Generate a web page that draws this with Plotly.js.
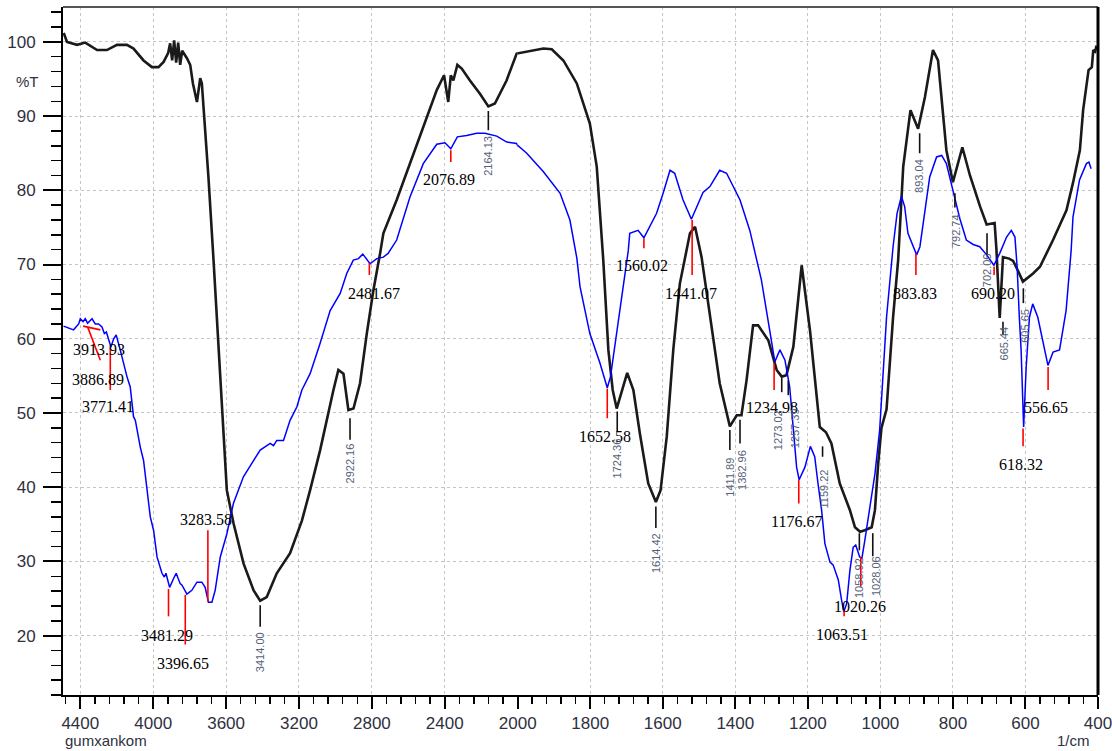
<!DOCTYPE html>
<html>
<head>
<meta charset="utf-8">
<script src="https://cdn.plot.ly/plotly-3.0.1.min.js"></script>
<style>html,body{margin:0;padding:0;background:#fff;}#chart{width:1112px;height:751px;}</style>
</head>
<body>
<div id="chart"></div>
<script>
// ---- Data (wavenumber in 1/cm, transmittance in %T) ----
const blackWn = [4491,4473,4418,4373,4308,4254,4199,4144,4108,4053,4007,3971,3943,3925,3918,3907,3896,3885,3874,3863,3852,3841,3815,3797,3782,3760,3742,3733,3720,3697,3669,3596,3559,3504,3449,3413,3377,3322,3249,3184,3139,3084,3011,2984,2956,2929,2901,2865,2828,2792,2755,2737,2664,2591,2518,2444,2404,2381,2367,2353,2331,2307,2262,2207,2161,2125,2061,2006,1966,1929,1906,1874,1837,1801,1782,1764,1750,1738,1727,1713,1698,1681,1663,1640,1619,1606,1589,1571,1553,1525,1511,1493,1470,1443,1415,1396,1383,1369,1351,1337,1309,1286,1272,1259,1240,1217,1194,1167,1150,1135,1112,1084,1070,1056,1043,1024,1015,1006,997,983,965,951,937,917,896,877,855,841,818,800,774,753,725,707,685,680,671,666,662,645,634,621,607,579,560,524,487,469,450,441,426,417,413,408,404];
const blackT = [101.2,100.0,99.6,99.9,98.9,98.9,99.6,99.6,99.1,97.5,96.6,96.6,97.3,98.2,98.5,99.8,97.5,100.2,97.2,99.9,96.9,98.8,97.8,96.9,94.4,91.9,95.1,94.4,90.3,81.8,70.6,39.6,35.1,29.7,26.1,24.7,25.2,28.4,31.1,35.5,39.6,45.0,53.1,55.8,55.3,50.4,50.6,54.0,60.7,66.5,71.5,74.2,78.7,83.6,88.5,93.5,95.5,91.9,95.5,94.8,96.9,96.4,94.8,93.0,91.3,91.7,94.8,98.4,98.8,99.1,99.0,97.5,94.4,89.0,83.2,70.6,58.5,53.1,50.6,53.1,55.4,53.1,47.2,40.5,38.0,39.6,46.8,58.5,67.4,74.2,75.1,71.0,62.9,54.0,48.2,49.7,49.7,54.4,61.8,61.8,59.8,55.8,54.9,55.1,58.9,69.9,61.1,48.1,47.4,45.9,40.5,36.9,34.6,34.0,34.2,34.6,36.9,43.2,48.0,50.5,62.9,70.6,83.2,90.8,88.3,92.6,98.9,97.5,85.4,81.1,85.8,82.0,77.8,75.4,75.6,72.0,62.8,68.0,71.0,70.8,70.5,69.2,67.7,68.8,69.7,73.3,77.3,81.0,85.4,90.8,96.2,96.6,98.9,98.7,99.5];

const blueWn = [4492,4437,4409,4400,4385,4373,4360,4336,4318,4300,4281,4268,4257,4245,4232,4217,4203,4181,4163,4144,4126,4108,4098,4071,4053,4034,4016,3998,3979,3952,3939,3930,3910,3888,3874,3852,3842,3815,3788,3760,3733,3715,3697,3678,3660,3632,3596,3560,3532,3505,3459,3413,3358,3340,3322,3285,3249,3212,3184,3139,3084,3029,2974,2938,2902,2874,2850,2810,2773,2737,2711,2664,2591,2518,2444,2399,2367,2331,2280,2225,2179,2115,2060,2006,1975,1929,1883,1856,1837,1828,1801,1773,1753,1744,1727,1709,1695,1691,1668,1652,1617,1599,1580,1567,1544,1521,1489,1470,1443,1424,1387,1360,1328,1305,1291,1277,1263,1250,1231,1224,1208,1193,1181,1172,1162,1153,1139,1130,1116,1107,1101,1093,1084,1075,1068,1057,1051,1043,1029,1015,1002,983,965,954,942,933,924,910,900,891,878,864,845,831,818,800,781,763,744,726,707,687,671,652,639,629,623,617,612,605,598,589,580,566,552,538,524,506,488,474,469,451,432,425,419];
const blueT = [61.7,61.2,62.0,62.7,62.3,62.7,62.1,62.7,62.0,62.0,61.6,60.7,60.9,59.8,58.9,60.0,60.5,58.5,56.7,54.9,53.5,49.5,49.0,45.4,43.6,39.6,36.0,34.2,30.6,28.4,27.9,28.4,26.5,27.7,28.4,27.0,26.8,25.6,26.1,27.2,27.2,26.5,24.5,24.5,26.1,30.6,33.7,37.8,39.6,41.4,43.2,45.0,45.9,45.6,46.3,46.3,49.0,50.8,53.1,55.3,59.4,63.8,66.1,68.8,70.6,70.8,71.4,70.1,70.8,71.0,71.5,73.3,79.1,83.6,86.2,86.4,85.6,87.2,87.4,87.7,87.7,87.3,86.5,86.3,85.0,82.5,79.6,76.0,70.9,67.0,60.7,56.7,53.4,54.9,60.7,67.4,71.9,74.2,74.6,73.6,76.9,79.6,82.7,82.3,78.7,76.1,79.7,80.5,82.7,82.3,78.7,74.6,67.9,61.1,56.9,58.5,57.1,53.5,42.7,41.0,42.7,45.5,44.1,40.5,36.9,32.4,29.9,29.5,27.5,24.8,23.2,24.3,28.8,31.9,32.2,30.6,30.4,32.8,37.3,41.8,47.7,62.9,72.4,76.9,79.2,77.8,74.2,72.4,71.3,72.4,77.3,81.8,84.5,84.7,83.6,79.8,76.2,73.3,72.7,72.4,71.3,69.9,71.5,73.7,74.6,73.7,69.7,63.0,58.5,48.1,56.2,62.9,64.7,62.9,59.4,56.4,58.2,58.5,63.8,71.9,76.4,81.4,83.6,83.8,82.9];

const xTicksHigh = [4400,4000,3600,3200,2800,2400];
const xTicksLow = [2000,1800,1600,1400,1200,1000,800,600,400];
const yTicks = [20,30,40,50,60,70,80,90,100];

// peak labels of the blue spectrum (text)
const bluePeakText = ["3913.93","3886.89","3771.41","3481.29","3396.65","3283.58","2481.67","2076.89","1560.02","1441.07","1652.58","1234.98","1176.67","1063.51","1020.26","883.83","690.20","618.32","556.65"];
// peak labels of the black spectrum (text)
const blackPeakText = ["3414.00","2922.16","2164.13","1724.36","1614.42","1411.89","1382.96","1273.02","1257.39","1159.22","1058.92","1028.06","893.04","792.74","702.06","665.44","605.65"];

// ---- Layout helpers ----
const SPLIT = 0.4393;
const ref = w => (w > 2000 ? 'x' : 'x2');

// blue labels: [text index, line x0, line y0, line x1, line y1, text x, text y]
const blueLabelPos = [
  [0, 4385,61.7, 4290,61.2, 4300,58.6],
  [1, 4360,61.6, 4290,57.1, 4301,54.5],
  [2, 4235.5,58.7, 4235.5,53.1, 4246,50.9],
  [3, 3916,26.3, 3916,22.6, 3925,20.0],
  [4, 3824,25.5, 3824,18.8, 3834,16.3],
  [5, 3700,34.2, 3700,24.6, 3709,35.6],
  [6, 2814,70.2, 2814,68.6, 2788,66.1],
  [7, 2367,85.4, 2367,83.8, 2375,81.4],
  [8, 1652,73.5, 1652,72.2, 1657,69.9],
  [9, 1519,76.0, 1519,68.6, 1523,66.1],
  [10, 1753,53.3, 1753,49.3, 1759,46.8],
  [11, 1293,56.7, 1293,53.1, 1300,50.8],
  [12, 1225,41.0, 1225,37.8, 1231,35.4],
  [13, 1100,23.5, 1100,22.6, 1107,20.1],
  [14, 1054,30.6, 1054,26.6, 1057,23.9],
  [15, 902,71.5, 902,68.6, 905,66.1],
  [16, 686.5,69.7, 686.5,68.6, 689,66.1],
  [17, 606.6,47.9, 606.6,45.5, 611,43.0],
  [18, 537.6,56.2, 537.6,53.1, 542,50.8]
];
// black labels: [text index, tick x, tick y0, tick y1, text x, text y]
const blackLabelPos = [
  [0, 3413,24.1,21.2, 3413,17.8],
  [1, 2920,49.3,46.4, 2920,43.2],
  [2, 2161,90.7,88.1, 2161,84.7],
  [3, 1725.5,50.2,47.5, 1725.5,43.9],
  [4, 1619,37.4,34.5, 1619,31.1],
  [5, 1415,47.7,45.0, 1415,41.4],
  [6, 1387,49.1,45.9, 1382,42.3],
  [7, 1272,54.7,52.8, 1282,47.7],
  [8, 1254,54.4,52.4, 1237,48.0],
  [9, 1159.4,45.5,44.1, 1156,39.8],
  [10, 1058,33.8,31.5, 1061,27.8],
  [11, 1021,33.8,30.7, 1012.5,28.0],
  [12, 891.7,87.7,85.0, 891.7,81.9],
  [13, 794.5,79.6,77.7, 791.7,74.5],
  [14, 706,74.2,71.2, 704,69.2],
  [15, 662,62.3,60.5, 658.4,59.4],
  [16, 605.8,66.8,64.8, 600.3,61.8]
];

const shapes = [];
const annotations = [];
blueLabelPos.forEach(p => {
  shapes.push({type:'line', xref:ref(p[1]), yref:'y', x0:p[1], y0:p[2], x1:p[3], y1:p[4], line:{color:'#ff0000', width:1.6}});
  annotations.push({xref:ref(p[5]), yref:'y', x:p[5], y:p[6], text:bluePeakText[p[0]], showarrow:false,
    xanchor:'center', yanchor:'middle', font:{family:'Liberation Serif, Times New Roman, serif', size:16, color:'#000'}});
});
blackLabelPos.forEach(p => {
  shapes.push({type:'line', xref:ref(p[1]), yref:'y', x0:p[1], y0:p[2], x1:p[1], y1:p[3], line:{color:'#111', width:1.6}});
  annotations.push({xref:ref(p[4]), yref:'y', x:p[4], y:p[5], text:blackPeakText[p[0]], showarrow:false, textangle:-90,
    xanchor:'center', yanchor:'middle', font:{family:'Liberation Sans, Arial, sans-serif', size:11, color:'#56627a'}});
});
// frame (top and right)
shapes.push({type:'line', xref:'paper', yref:'paper', x0:0, x1:1, y0:1, y1:1, line:{color:'#555', width:2}});
shapes.push({type:'line', xref:'paper', yref:'paper', x0:1, x1:1, y0:0, y1:1, line:{color:'#000', width:3}});

annotations.push({xref:'paper', yref:'paper', x:-0.034, y:0.891, text:'%T', showarrow:false, xanchor:'center', yanchor:'middle',
  font:{family:'Liberation Sans, Arial, sans-serif', size:15, color:'#2e3040'}});
annotations.push({xref:'paper', yref:'paper', x:0.0, y:-0.066, text:'gumxankom', showarrow:false, xanchor:'left', yanchor:'middle',
  font:{family:'Liberation Sans, Arial, sans-serif', size:15, color:'#2e3040'}});
annotations.push({xref:'paper', yref:'paper', x:0.976, y:-0.066, text:'1/cm', showarrow:false, xanchor:'center', yanchor:'middle',
  font:{family:'Liberation Sans, Arial, sans-serif', size:15, color:'#2e3040'}});

const blackLine = {color:'#1a1a1a', width:2.6};
const blueLine = {color:'#0000ff', width:1.5};
const traces = [
  {x:blackWn, y:blackT, xaxis:'x', yaxis:'y', mode:'lines', line:blackLine, hoverinfo:'skip'},
  {x:blackWn, y:blackT, xaxis:'x2', yaxis:'y', mode:'lines', line:blackLine, hoverinfo:'skip'},
  {x:blueWn, y:blueT, xaxis:'x', yaxis:'y', mode:'lines', line:blueLine, hoverinfo:'skip'},
  {x:blueWn, y:blueT, xaxis:'x2', yaxis:'y', mode:'lines', line:blueLine, hoverinfo:'skip'}
];

const tickFont = {family:'Liberation Sans, Arial, sans-serif', size:17, color:'#2e3040'};
const grid = {showgrid:true, gridcolor:'#c4c4c4', griddash:'dot', gridwidth:1};
const layout = {
  width:1112, height:751,
  margin:{l:63, r:14, t:7, b:56},
  paper_bgcolor:'#fff', plot_bgcolor:'#fff',
  showlegend:false,
  xaxis: Object.assign({domain:[0, SPLIT], range:[4495, 2000], anchor:'y', tickmode:'array', tickvals:xTicksHigh,
    ticks:'outside', ticklen:12, tickwidth:2, tickcolor:'#000', showline:true, linecolor:'#000', linewidth:2,
    tickfont:tickFont, zeroline:false,
    minor:{tickmode:'linear', tick0:4400, dtick:80, ticks:'outside', ticklen:7, tickwidth:1.5, tickcolor:'#000', showgrid:false}}, grid),
  xaxis2: Object.assign({domain:[SPLIT, 1], range:[2000, 400], anchor:'y', tickmode:'array', tickvals:xTicksLow,
    ticks:'outside', ticklen:12, tickwidth:2, tickcolor:'#000', showline:true, linecolor:'#000', linewidth:2,
    tickfont:tickFont, zeroline:false, ticklabeloverflow:'allow',
    minor:{tickmode:'linear', tick0:400, dtick:40, ticks:'outside', ticklen:7, tickwidth:1.5, tickcolor:'#000', showgrid:false}}, grid),
  yaxis: Object.assign({range:[12, 104.7], anchor:'x', tickmode:'array', tickvals:yTicks,
    ticks:'outside', ticklen:18, tickwidth:2, tickcolor:'#000', showline:true, linecolor:'#000', linewidth:2,
    tickfont:tickFont, zeroline:false, ticklabelstandoff:4,
    minor:{tickmode:'linear', tick0:20, dtick:2, ticks:'outside', ticklen:10, tickwidth:1.5, tickcolor:'#000', showgrid:false}}, grid),
  shapes: shapes,
  annotations: annotations
};
Plotly.newPlot('chart', traces, layout, {staticPlot:true, displayModeBar:false});
</script>
</body>
</html>
